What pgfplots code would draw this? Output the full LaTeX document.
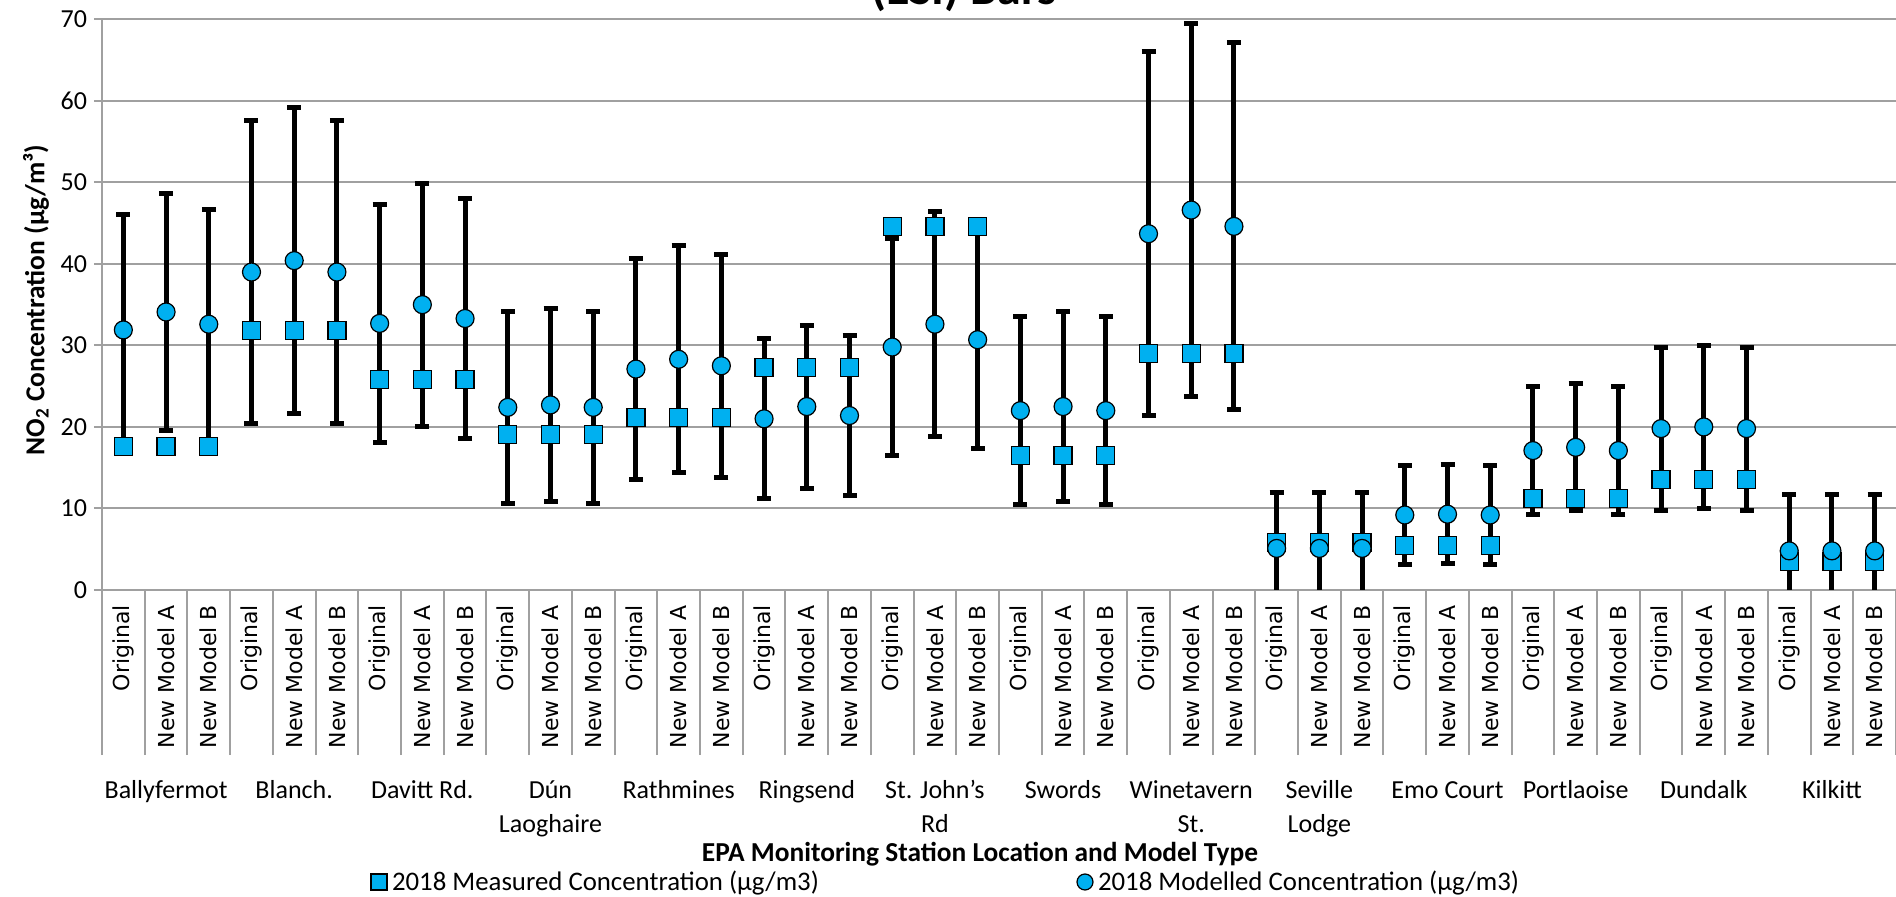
\documentclass[border=0pt]{standalone}
\usepackage{pgfplots}
\usepackage{pgfplotstable}
\pgfplotsset{compat=1.18}
\usepackage{fontspec}
\setmainfont{Carlito}
\newfontfamily\dejavu{DejaVu Sans}
\definecolor{mk}{HTML}{00B0F0}
\definecolor{gridc}{RGB}{160,160,160}

% x: category index; mod: modelled; err: error-bar half length; meas: measured
\pgfplotstableread{
x mod err meas
0 31.9 14.1 17.6
1 34.1 14.5 17.6
2 32.6 14.1 17.6
3 39.0 18.6 31.8
4 40.4 18.8 31.8
5 39.0 18.6 31.8
6 32.7 14.6 25.8
7 35.0 14.9 25.8
8 33.3 14.7 25.8
9 22.4 11.8 19.1
10 22.7 11.8 19.1
11 22.4 11.8 19.1
12 27.1 13.6 21.2
13 28.3 13.9 21.2
14 27.5 13.7 21.2
15 21.0 9.8 27.3
16 22.5 10.0 27.3
17 21.4 9.8 27.3
18 29.8 13.3 44.6
19 32.6 13.8 44.6
20 30.7 13.4 44.6
21 22.0 11.5 16.5
22 22.5 11.6 16.5
23 22.0 11.5 16.5
24 43.7 22.3 29.0
25 46.6 22.9 29.0
26 44.6 22.5 29.0
27 5.1 6.8 5.8
28 5.1 6.8 5.8
29 5.1 6.8 5.8
30 9.2 6.1 5.5
31 9.3 6.1 5.5
32 9.2 6.1 5.5
33 17.1 7.9 11.2
34 17.5 7.8 11.2
35 17.1 7.9 11.2
36 19.8 10.0 13.6
37 20.0 10.0 13.6
38 19.8 10.0 13.6
39 4.8 6.9 3.5
40 4.8 6.9 3.5
41 4.8 6.9 3.5
}\datatab

\begin{document}
\begin{tikzpicture}
\begin{axis}[
  name=ax,
  scale only axis,
  width=897pt, height=285.35pt,
  xmin=-0.5, xmax=41.5, ymin=0, ymax=70,
  axis x line*=bottom, axis y line*=left,
  axis line style={gridc, line width=1pt},
  /pgf/number format/assume math mode=true,
  ytick={0,10,...,70},
  ymajorgrids,
  major grid style={gridc, line width=1pt},
  tick align=outside,
  major tick length=4pt,
  ytick style={gridc, line width=1pt},
  yticklabel style={font=\fontsize{13}{15}\selectfont},
  xtick={0,...,41},
  xtick style={draw=none},
  xticklabels={Original,New Model A,New Model B,Original,New Model A,New Model B,Original,New Model A,New Model B,Original,New Model A,New Model B,Original,New Model A,New Model B,Original,New Model A,New Model B,Original,New Model A,New Model B,Original,New Model A,New Model B,Original,New Model A,New Model B,Original,New Model A,New Model B,Original,New Model A,New Model B,Original,New Model A,New Model B,Original,New Model A,New Model B,Original,New Model A,New Model B},
  xticklabel style={font=\dejavu\fontsize{11}{13}\selectfont, rotate=90, anchor=east},
  extra x ticks={-0.5,0.5,...,41.5},
  extra x tick labels={},
  extra x tick style={major tick length=82.5pt, xtick style={draw=gridc, line width=1pt}},
  minor xtick={-0.5,2.5,...,41.5},
  minor tick length=125pt,
  every minor tick/.append style={draw=gridc, line width=1pt},
  xlabel={EPA Monitoring Station Location and Model Type},
  xlabel style={at={(axis description cs:0.4894,-0.4766)}, anchor=base, font=\bfseries\fontsize{13.7}{16}\selectfont},
  ylabel={NO\textsubscript{2} Concentration (µg/m³)},
  ylabel style={at={(axis description cs:-0.0368,0.508)}, anchor=center, font=\bfseries\fontsize{13.7}{16}\selectfont},
  title={(ESI) Bars},
  title style={at={(axis description cs:0.4805,1)}, anchor=base, yshift=1.15pt, font=\bfseries\fontsize{24}{28}\selectfont},
  legend columns=2,
  legend style={at={(axis description cs:0.14995,-0.51165)}, anchor=west, draw=none, fill=none,
    inner sep=0pt, outer sep=0pt, nodes={inner sep=0pt}, /tikz/column sep=0pt,
    font=\fontsize{13.4}{15}\selectfont},
  legend image code/.code={\draw[#1, mark size=4pt] plot coordinates {(4pt,0pt)};},
]
\addplot[forget plot, only marks, mark=none,
  error bars/.cd, y dir=both, y explicit,
  error bar style={line width=2.5pt, black},
  error mark options={rotate=90, black, line width=2.5pt, mark size=3.5pt}]
  table[x=x, y=mod, y error=err]{\datatab};
\addplot[only marks, mark=square*, mark size=4.5pt, mark options={fill=mk, draw=black, line width=0.6pt}]
  table[x=x, y=meas]{\datatab};
\addlegendentry{\hspace{2.5pt}\makebox[342.5pt][l]{2018 Measured Concentration (µg/m3)}}
\addplot[only marks, mark=*, mark size=4.5pt, mark options={fill=mk, draw=black, line width=0.6pt}]
  table[x=x, y=mod]{\datatab};
\addlegendentry{\hspace{2.5pt}2018 Modelled Concentration (µg/m3)}
\end{axis}
\begin{scope}[shift={(ax.south west)}, font=\fontsize{13}{15}\selectfont]
\foreach \g/\a/\b in {0/Ballyfermot/{},1/Blanch./{},2/Davitt Rd./{},3/Dún/Laoghaire,4/Rathmines/{},5/Ringsend/{},6/St. John's/Rd,7/Swords/{},8/Winetavern/St.,9/Seville/Lodge,10/Emo Court/{},11/Portlaoise/{},12/Dundalk/{},13/Kilkitt/{}}{
  \node[anchor=base, inner sep=0pt] at ({(3*\g+1.5)*21.357143pt},-104.5pt) {\a};
  \node[anchor=base, inner sep=0pt] at ({(3*\g+1.5)*21.357143pt},-121.5pt) {\b};
}
\end{scope}
\pgfresetboundingbox
\path[use as bounding box] ([xshift=-51pt,yshift=-153.5pt]ax.south west) rectangle ([yshift=9.65pt]ax.north east);
\end{tikzpicture}
\end{document}
